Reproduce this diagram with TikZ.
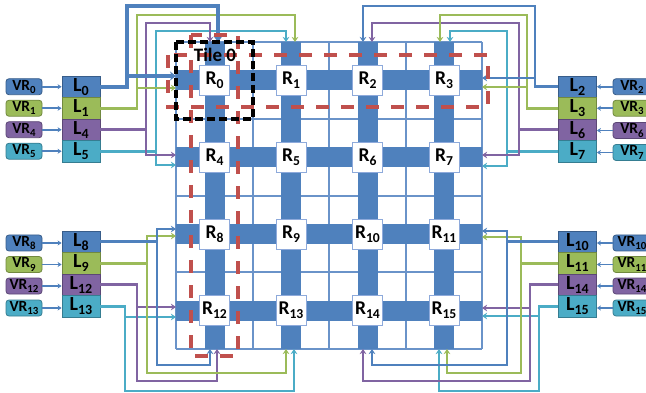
\documentclass[tikz,border=0pt]{standalone}
\usepackage{fontspec}
\setmainfont{Carlito}
\usetikzlibrary{arrows.meta}
\definecolor{cblue}{HTML}{4F81BD}
\definecolor{cbluedk}{HTML}{385D8A}
\definecolor{cgreen}{HTML}{9BBB59}
\definecolor{cgreendk}{HTML}{71893F}
\definecolor{cpurple}{HTML}{8064A2}
\definecolor{cpurpledk}{HTML}{5C4776}
\definecolor{ccyan}{HTML}{4BACC6}
\definecolor{ccyandk}{HTML}{357D91}
\definecolor{gridc}{HTML}{6A93C9}
\definecolor{rborder}{HTML}{8EAADB}
\definecolor{cred}{HTML}{C0504D}
\newcommand{\sbs}[1]{\raisebox{-0.2em}{\scalebox{0.7}{#1}}}
\begin{document}
\begin{tikzpicture}[x=1pt,y=-1pt,
  rbox/.style={draw=rborder, fill=white, line width=0.8pt, minimum width=30pt, minimum height=30pt, inner sep=0pt, font=\fontsize{19.5}{19.5}\selectfont\bfseries},
  lbox/.style={line width=0.8pt, minimum width=38pt, minimum height=21.5pt, inner sep=0pt, font=\fontsize{20}{20}\selectfont\bfseries},
  vrbox/.style={rounded corners=3pt, line width=0.8pt, minimum width=36pt, minimum height=16pt, inner sep=0pt, font=\fontsize{15.5}{15.5}\selectfont\bfseries},
  bl/.style={fill=cblue, draw=cbluedk},
  gr/.style={fill=cgreen, draw=cgreendk},
  pu/.style={fill=cpurple, draw=cpurpledk},
  cy/.style={fill=ccyan, draw=ccyandk},
  conn/.style={line width=2.7pt, -{Stealth[length=5pt,width=6.5pt]}},
  thickconn/.style={line width=4.4pt, -{Stealth[length=6pt,width=9pt]}},
  feed/.style={cblue, line width=1.6pt, -{Stealth[length=4pt,width=5pt]}},
  gridline/.style={gridc, line width=1.1pt},
  reddash/.style={cred, line width=3.6pt, dash pattern=on 13pt off 12pt},
  blackdash/.style={black, line width=3.4pt, dash pattern=on 8pt off 4pt}
]
\useasboundingbox (0,0) rectangle (646,393);

% grid
\foreach \x in {176,253,329,406,482} \draw[gridline] (\x,42) -- (\x,349);
\foreach \y in {42,119,196,272,349} \draw[gridline] (176,\y) -- (482,\y);
\foreach \x in {214.5,291,367.5,444} \fill[cblue] (\x-10,42) rectangle (\x+10,349);
\foreach \y in {80.5,157.5,234,310.5} \fill[cblue] (176,\y-10) rectangle (482,\y+10);

% routers
\node[rbox] (R0) at (214.5,80.5) {R\sbs{0}};
\node[rbox] (R1) at (291,80.5) {R\sbs{1}};
\node[rbox] (R2) at (367.5,80.5) {R\sbs{2}};
\node[rbox] (R3) at (444,80.5) {R\sbs{3}};
\node[rbox] (R4) at (214.5,157.5) {R\sbs{4}};
\node[rbox] (R5) at (291,157.5) {R\sbs{5}};
\node[rbox] (R6) at (367.5,157.5) {R\sbs{6}};
\node[rbox] (R7) at (444,157.5) {R\sbs{7}};
\node[rbox] (R8) at (214.5,234) {R\sbs{8}};
\node[rbox] (R9) at (291,234) {R\sbs{9}};
\node[rbox] (R10) at (367.5,234) {R\sbs{10}};
\node[rbox] (R11) at (444,234) {R\sbs{11}};
\node[rbox] (R12) at (214.5,310.5) {R\sbs{12}};
\node[rbox] (R13) at (291,310.5) {R\sbs{13}};
\node[rbox] (R14) at (367.5,310.5) {R\sbs{14}};
\node[rbox] (R15) at (444,310.5) {R\sbs{15}};

% L boxes
\node[lbox,bl] (L0) at (81,86.75) {L\sbs{0}};
\node[lbox,gr] (L1) at (81,108.25) {L\sbs{1}};
\node[lbox,pu] (L4) at (81,129.75) {L\sbs{4}};
\node[lbox,cy] (L5) at (81,151.25) {L\sbs{5}};
\node[lbox,bl] (L8) at (81,241.75) {L\sbs{8}};
\node[lbox,gr] (L9) at (81,263.25) {L\sbs{9}};
\node[lbox,pu] (L12) at (81,284.75) {L\sbs{12}};
\node[lbox,cy] (L13) at (81,306.25) {L\sbs{13}};
\node[lbox,bl] (L2) at (577.5,86.75) {L\sbs{2}};
\node[lbox,gr] (L3) at (577.5,108.25) {L\sbs{3}};
\node[lbox,pu] (L6) at (577.5,129.75) {L\sbs{6}};
\node[lbox,cy] (L7) at (577.5,151.25) {L\sbs{7}};
\node[lbox,bl] (L10) at (577.5,241.75) {L\sbs{10}};
\node[lbox,gr] (L11) at (577.5,263.25) {L\sbs{11}};
\node[lbox,pu] (L14) at (577.5,284.75) {L\sbs{14}};
\node[lbox,cy] (L15) at (577.5,306.25) {L\sbs{15}};

% VR boxes
\node[vrbox,bl] (VR0) at (24,86.75) {VR\sbs{0}};
\node[vrbox,gr] (VR1) at (24,108.25) {VR\sbs{1}};
\node[vrbox,pu] (VR4) at (24,129.75) {VR\sbs{4}};
\node[vrbox,cy] (VR5) at (24,151.25) {VR\sbs{5}};
\node[vrbox,bl] (VR8) at (24,243) {VR\sbs{8}};
\node[vrbox,gr] (VR9) at (24,264.5) {VR\sbs{9}};
\node[vrbox,pu] (VR12) at (24,286) {VR\sbs{12}};
\node[vrbox,cy] (VR13) at (24,308) {VR\sbs{13}};
\node[vrbox,bl,minimum width=38pt] (VR2) at (632,86.75) {VR\sbs{2}};
\node[vrbox,gr,minimum width=38pt] (VR3) at (632,108.25) {VR\sbs{3}};
\node[vrbox,pu,minimum width=38pt] (VR6) at (632,130.5) {VR\sbs{6}};
\node[vrbox,cy,minimum width=38pt] (VR7) at (632,152.5) {VR\sbs{7}};
\node[vrbox,bl,minimum width=38pt] (VR10) at (632,243) {VR\sbs{10}};
\node[vrbox,gr,minimum width=38pt] (VR11) at (632,264.5) {VR\sbs{11}};
\node[vrbox,pu,minimum width=38pt] (VR14) at (632,286) {VR\sbs{14}};
\node[vrbox,cy,minimum width=38pt] (VR15) at (632,308) {VR\sbs{15}};

% VR -> L feeds
\foreach \v/\l in {VR0/L0,VR1/L1,VR4/L4,VR5/L5,VR8/L8,VR9/L9,VR12/L12,VR13/L13}
  \draw[feed] (\v.east) -- (\v.east -| \l.west);
\foreach \v/\l in {VR2/L2,VR3/L3,VR6/L6,VR7/L7,VR10/L10,VR11/L11,VR14/L14,VR15/L15}
  \draw[feed] (\v.west) -- (\v.west -| \l.east);

% junction and end coordinates
\coordinate (j0) at (127,76);   \coordinate (e0) at (176,76);   \coordinate (k0) at (218,6);  \coordinate (n0) at (218,42);
\coordinate (j1) at (137,88);   \coordinate (e1) at (176,88);   \coordinate (k1) at (295,15); \coordinate (n1) at (295,42);
\coordinate (j4) at (146,129.75); \coordinate (e4) at (176,155); \coordinate (k4) at (210,23); \coordinate (n4) at (210,42);
\coordinate (j5) at (156,151.25); \coordinate (e5) at (176,165); \coordinate (k5) at (286,31); \coordinate (n5) at (286,42);
\coordinate (j2) at (535,78);   \coordinate (e2) at (482,78);   \coordinate (k2) at (363,6);  \coordinate (n2) at (363,42);
\coordinate (j3) at (527,87);   \coordinate (e3) at (482,87);   \coordinate (k3) at (440,15); \coordinate (n3) at (440,42);
\coordinate (j6) at (519,129.75); \coordinate (e6) at (482,155); \coordinate (k6) at (372,23); \coordinate (n6) at (372,42);
\coordinate (j7) at (507,151.25); \coordinate (e7) at (482,166); \coordinate (k7) at (450,31); \coordinate (n7) at (450,42);
\coordinate (j8) at (157,241.75); \coordinate (e8) at (176,229); \coordinate (k8) at (210,365); \coordinate (s8) at (210,349);
\coordinate (j9) at (147,263.25); \coordinate (e9) at (176,236); \coordinate (k9) at (286,373); \coordinate (s9) at (286,349);
\coordinate (j12) at (137,307); \coordinate (e12) at (176,307); \coordinate (k12) at (217,381); \coordinate (s12) at (217,349);
\coordinate (j13) at (125,317); \coordinate (e13) at (176,317); \coordinate (k13) at (294,391); \coordinate (s13) at (294,349);
\coordinate (j10) at (507,241.75); \coordinate (e10) at (482,231); \coordinate (k10) at (372,365); \coordinate (s10) at (372,349);
\coordinate (j11) at (521,263.25); \coordinate (e11) at (482,237); \coordinate (k11) at (447,373); \coordinate (s11) at (447,349);
\coordinate (j14) at (530,308); \coordinate (e14) at (482,308); \coordinate (k14) at (363,381); \coordinate (s14) at (363,349);
\coordinate (j15) at (539,316); \coordinate (e15) at (482,316); \coordinate (k15) at (439,391); \coordinate (s15) at (439,349);

% connectors left top
\draw[conn,ccyan] (L5.east) -- (j5) |- (e5);
\draw[conn,ccyan] (j5) |- (k5) -- (n5);
\draw[conn,cpurple] (L4.east) -- (j4) |- (e4);
\draw[conn,cpurple] (j4) |- (k4) -- (n4);
\draw[conn,cgreen] (L1.east) -| (j1) -- (e1);
\draw[conn,cgreen] (j1) |- (k1) -- (n1);
\draw[thickconn,cblue] (L0.east) -| (j0) -- (e0);
\draw[thickconn,cblue] (j0) |- (k0) -- (n0);
% connectors right top
\draw[conn,ccyan] (L7.west) -- (j7) |- (e7);
\draw[conn,ccyan] (j7) |- (k7) -- (n7);
\draw[conn,cpurple] (L6.west) -- (j6) |- (e6);
\draw[conn,cpurple] (j6) |- (k6) -- (n6);
\draw[conn,cgreen] (L3.west) -| (j3) -- (e3);
\draw[conn,cgreen] (j3) |- (k3) -- (n3);
\draw[conn,cblue] (L2.west) -| (j2) -- (e2);
\draw[conn,cblue] (j2) |- (k2) -- (n2);
% connectors left bottom
\draw[conn,ccyan] (L13.east) -| (j13) -- (e13);
\draw[conn,ccyan] (j13) |- (k13) -- (s13);
\draw[conn,cpurple] (L12.east) -| (j12) -- (e12);
\draw[conn,cpurple] (j12) |- (k12) -- (s12);
\draw[conn,cgreen] (L9.east) -- (j9) |- (e9);
\draw[conn,cgreen] (j9) |- (k9) -- (s9);
\draw[conn,cblue] (L8.east) -- (j8) |- (e8);
\draw[conn,cblue] (j8) |- (k8) -- (s8);
% connectors right bottom
\draw[conn,ccyan] (L15.west) -| (j15) -- (e15);
\draw[conn,ccyan] (j15) |- (k15) -- (s15);
\draw[conn,cpurple] (L14.west) -| (j14) -- (e14);
\draw[conn,cpurple] (j14) |- (k14) -- (s14);
\draw[conn,cgreen] (L11.west) -- (j11) |- (e11);
\draw[conn,cgreen] (j11) |- (k11) -- (s11);
\draw[conn,cblue] (L10.west) -- (j10) |- (e10);
\draw[conn,cblue] (j10) |- (k10) -- (s10);

% dashed outlines
\draw[reddash] (168,55) rectangle (488,107);
\draw[reddash] (191,35) rectangle (238,356);
\draw[blackdash] (176,42) rectangle (253,119);
\node[font=\fontsize{19}{19}\selectfont\bfseries, inner sep=0pt] (tile) at (215,55) {Tile 0};
\end{tikzpicture}
\end{document}
